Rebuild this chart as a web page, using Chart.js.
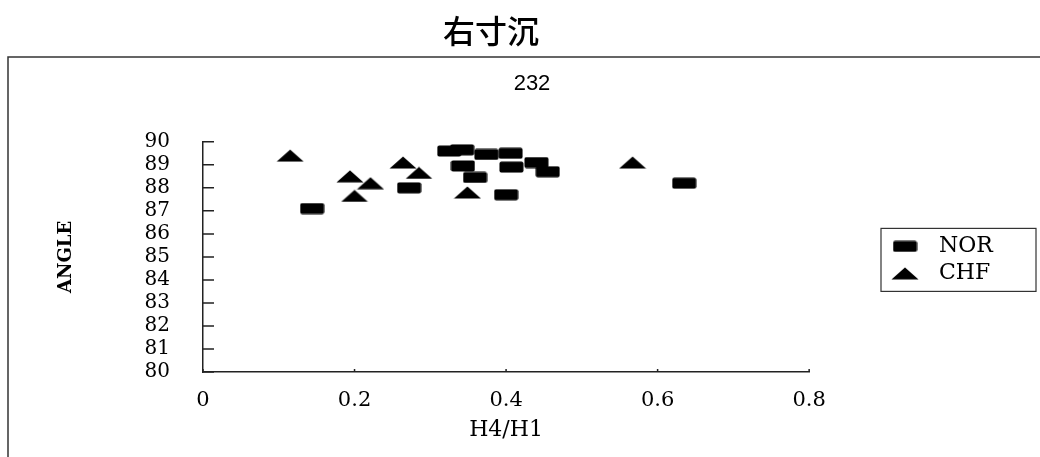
<!DOCTYPE html>
<html>
<head>
<meta charset="utf-8">
<script src="https://cdn.jsdelivr.net/npm/chart.js@4"></script>
<style>
  html, body { margin: 0; padding: 0; background: #fff; }
  #wrap { width: 1040px; height: 457px; }
</style>
</head>
<body>
<div id="wrap"><canvas id="graph_scatter" width="1040" height="457"></canvas></div>
<script>
'use strict';

// H4/H1 と ANGLE の値
let norX = [0.144, 0.272, 0.325, 0.342, 0.343, 0.359, 0.374, 0.406, 0.407, 0.44, 0.455, 0.40, 0.635];
let norY = [87.1, 88.0, 89.6, 89.65, 88.95, 88.45, 89.45, 89.5, 88.9, 89.1, 88.7, 87.7, 88.2];
let chfX = [0.115, 0.194, 0.221, 0.200, 0.264, 0.285, 0.349, 0.567];
let chfY = [89.4, 88.5, 88.2, 87.65, 89.1, 88.65, 87.8, 89.1];
let xTicks = [0, 0.2, 0.4, 0.6, 0.8];
let yTicks = [80, 81, 82, 83, 84, 85, 86, 87, 88, 89, 90];

let serif = "'DejaVu Serif', 'Liberation Serif', serif";

// マーカー画像（横長の四角と三角）
function makeRect() {
    let c = document.createElement('canvas');
    c.width = 25; c.height = 12;
    let g = c.getContext('2d');
    g.fillStyle = '#000';
    g.beginPath();
    g.roundRect(0.5, 0.5, 24, 11, 2);
    g.fill();
    return c;
}
function makeTri() {
    let c = document.createElement('canvas');
    c.width = 28; c.height = 13;
    let g = c.getContext('2d');
    g.fillStyle = '#000';
    g.beginPath();
    g.moveTo(14, 0.5);
    g.lineTo(27.5, 12.5);
    g.lineTo(0.5, 12.5);
    g.closePath();
    g.fill();
    return c;
}
let rectMark = makeRect();
let triMark = makeTri();

function toPoints(xs, ys) {
    return xs.map((x, i) => ({x: x, y: ys[i]}));
}

// タイトル・凡例の位置をずらす
let placePlugin = {
    id: 'place',
    afterLayout(chart) {
        let titles = chart.boxes.filter(b => b.constructor === chart.titleBlock.constructor);
        titles.forEach(b => {
            let cx = b === chart.titleBlock ? 491 : 532;
            let dx = cx - (b.left + b.right) / 2;
            b.left += dx;
            b.right += dx;
        });
        let lg = chart.legend;
        let w = lg.width;
        lg.left = 877;
        lg.right = 877 + w;
        lg.top += 3;
        lg.bottom += 3;
    }
};

// 外枠・内向きの目盛り・凡例の枠
let framePlugin = {
    id: 'frame',
    afterDraw(chart) {
        let ctx = chart.ctx;
        let area = chart.chartArea;
        ctx.save();
        ctx.strokeStyle = '#333';
        ctx.lineWidth = 1.5;
        ctx.beginPath();
        ctx.moveTo(8, 457);
        ctx.lineTo(8, 57);
        ctx.lineTo(1040, 57);
        ctx.stroke();

        ctx.strokeStyle = '#222';
        ctx.lineWidth = 1.5;
        let ys = chart.scales.y;
        ctx.beginPath();
        ys.ticks.forEach((t, i) => {
            let py = ys.getPixelForTick(i);
            ctx.moveTo(area.left, py);
            ctx.lineTo(area.left + 11, py);
        });
        let xs = chart.scales.x;
        xs.ticks.forEach((t, i) => {
            let px = xs.getPixelForTick(i);
            ctx.moveTo(px, area.bottom);
            ctx.lineTo(px, area.bottom - 3);
        });
        ctx.stroke();

        let lg = chart.legend;
        let mid = (lg.top + lg.bottom) / 2;
        ctx.lineWidth = 1.2;
        ctx.strokeStyle = '#333';
        ctx.strokeRect(881, mid - 31.5, 155, 63);
        ctx.restore();
    }
};

window.onload = function () {
    let context_scatter = document.querySelector('#graph_scatter').getContext('2d');
    new Chart(context_scatter, {
        type: 'scatter',
        data: {
            datasets: [{
                label: 'NOR',
                data: toPoints(norX, norY),
                pointStyle: rectMark,
                backgroundColor: '#000',
                borderColor: '#000'
            }, {
                label: 'CHF',
                data: toPoints(chfX, chfY),
                pointStyle: triMark,
                backgroundColor: '#000',
                borderColor: '#000'
            }]
        },
        options: {
            responsive: false,
            animation: false,
            layout: {
                padding: {left: 20, right: 105, top: 0, bottom: 0}
            },
            plugins: {
                title: {
                    display: true,
                    text: '右寸沉',
                    color: '#000',
                    font: {family: "'Noto Sans CJK SC'", size: 32, weight: '500'},
                    padding: {top: 12, bottom: 20}
                },
                subtitle: {
                    display: true,
                    text: '232',
                    color: '#000',
                    font: {family: "'Liberation Sans', sans-serif", size: 22},
                    padding: {top: 0, bottom: 45}
                },
                legend: {
                    position: 'right',
                    fullSize: false,
                    labels: {
                        usePointStyle: true,
                        pointStyleWidth: 46,
                        color: '#000',
                        font: {family: serif, size: 22},
                        padding: 5
                    }
                },
                tooltip: {enabled: false}
            },
            scales: {
                x: {
                    type: 'linear',
                    min: 0,
                    max: 0.8,
                    afterBuildTicks: (scale) => {
                        scale.ticks = xTicks.map(v => ({value: v}));
                    },
                    afterFit: (scale) => {
                        scale.height = 85;
                    },
                    grid: {display: false, drawTicks: false},
                    border: {display: true, color: '#222', width: 1.5},
                    ticks: {
                        color: '#000',
                        padding: 16,
                        autoSkip: false,
                        font: {family: serif, size: 21},
                        callback: (v) => String(v)
                    },
                    title: {
                        display: true,
                        text: 'H4/H1',
                        color: '#000',
                        font: {family: serif, size: 22},
                        padding: {top: 0, bottom: 14}
                    }
                },
                y: {
                    min: 80,
                    max: 90,
                    afterBuildTicks: (scale) => {
                        scale.ticks = yTicks.map(v => ({value: v}));
                    },
                    afterFit: (scale) => {
                        scale.width = 183;
                    },
                    grid: {display: false, drawTicks: false},
                    border: {display: true, color: '#222', width: 1.5},
                    ticks: {
                        color: '#000',
                        padding: 33,
                        autoSkip: false,
                        font: {family: serif, size: 20}
                    },
                    title: {
                        display: true,
                        text: 'ANGLE',
                        color: '#000',
                        font: {family: serif, size: 18, weight: 'bold'},
                        padding: {top: 36, bottom: 0}
                    }
                }
            }
        },
        plugins: [placePlugin, framePlugin]
    });
};
</script>
</body>
</html>
